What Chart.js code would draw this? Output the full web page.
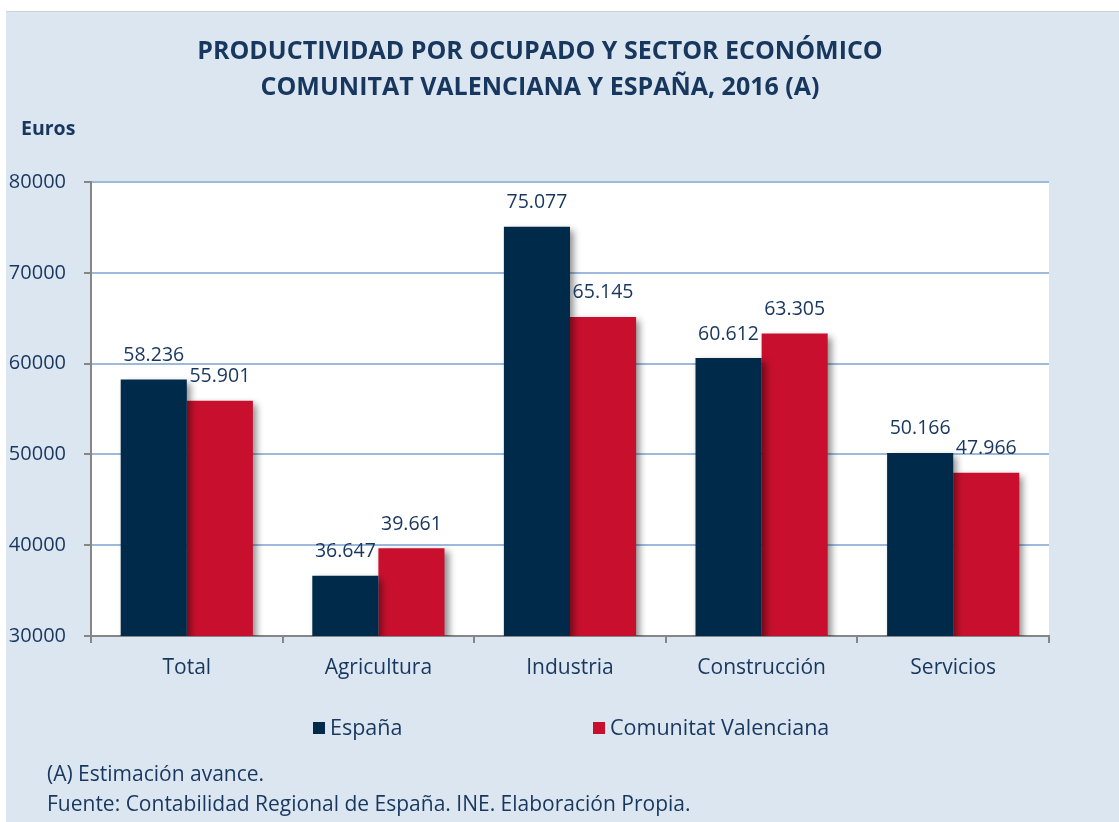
<!DOCTYPE html>
<html><head><meta charset="utf-8">
<script src="https://cdn.jsdelivr.net/npm/chart.js@4/dist/chart.umd.min.js"></script>
<style>html,body{margin:0;padding:0;background:#fff;overflow:hidden}#wrap{position:absolute;left:0;top:0;width:1119px;height:822px}</style>
</head><body><div id="wrap"><canvas id="c" width="1119" height="822"></canvas></div>
<script>
const categories = ['Total','Agricultura','Industria','Construcción','Servicios'];
const espana = [58236, 36647, 75077, 60612, 50166];
const valenciana = [55901, 39661, 65145, 63305, 47966];
const seriesNames = ['España','Comunitat Valenciana'];
const titleLines = ['PRODUCTIVIDAD POR OCUPADO Y SECTOR ECONÓMICO','COMUNITAT VALENCIANA Y ESPAÑA, 2016 (A)'];
const yAxisTitle = 'Euros';
const notes = ['(A) Estimación avance.','Fuente: Contabilidad Regional de España. INE. Elaboración Propia.'];
const yTicks = {min:30000, max:80000, step:10000};

const TXT = '#17375e';
const FONT = '"Open Sans", sans-serif';
const fmt = v => String(v).replace(/\B(?=(\d{3})+(?!\d))/g, '.');

const bgPlugin = {
  id:'bg',
  beforeDraw(chart){
    const ctx = chart.ctx, a = chart.chartArea;
    ctx.save();
    ctx.fillStyle = '#ffffff'; ctx.fillRect(0,0,chart.width,chart.height);
    ctx.fillStyle = '#dce6f1'; ctx.fillRect(6,11,chart.width-6,chart.height-11);
    ctx.fillStyle = '#d0d4da'; ctx.fillRect(6,11,chart.width-6,1);
    ctx.fillStyle = '#ffffff'; ctx.fillRect(a.left,a.top,a.right-a.left,a.bottom-a.top);
    ctx.restore();
  }
};
const shadowPlugin = {
  id:'shadow',
  beforeDatasetDraw(chart){
    const ctx = chart.ctx; ctx.save();
    ctx.shadowColor = 'rgba(0,0,0,0.45)'; ctx.shadowBlur = 7; ctx.shadowOffsetX = 4; ctx.shadowOffsetY = 3;
  },
  afterDatasetDraw(chart){ chart.ctx.restore(); }
};
const textPlugin = {
  id:'texts',
  afterDraw(chart){
    const ctx = chart.ctx;
    ctx.save();
    ctx.fillStyle = TXT;
    // data labels
    ctx.font = '19.5px ' + FONT; ctx.textAlign='center'; ctx.textBaseline='middle';
    chart.data.datasets.forEach((ds,i)=>{
      chart.getDatasetMeta(i).data.forEach((bar,j)=>{
        ctx.fillText(fmt(ds.data[j]), bar.x, bar.y - 24);
      });
    });
    // title
    ctx.font = 'bold 25px ' + FONT;
    ctx.fillText(titleLines[0], 540, 52);
    ctx.fillText(titleLines[1], 540, 88);
    // y title
    ctx.font = 'bold 19.5px ' + FONT; ctx.textAlign='left';
    ctx.fillText(yAxisTitle, 21, 129);
    // legend
    ctx.font = '21.5px ' + FONT;
    const lx = [313, 593];
    chart.data.datasets.forEach((ds,i)=>{
      ctx.fillStyle = ds.backgroundColor;
      ctx.fillRect(lx[i], 722, 12, 12);
      ctx.fillStyle = TXT;
      ctx.fillText(ds.label, lx[i] + 17, 729);
    });
    // notes
    ctx.font = '21px ' + FONT;
    ctx.fillText(notes[0], 47, 775);
    ctx.fillText(notes[1], 47, 805);
    ctx.restore();
  }
};

new Chart(document.getElementById('c'), {
  type:'bar',
  data:{
    labels: categories,
    datasets:[
      {label:seriesNames[0], data:espana, backgroundColor:'#002a4a', categoryPercentage:0.69, barPercentage:1.0},
      {label:seriesNames[1], data:valenciana, backgroundColor:'#c8102e', categoryPercentage:0.69, barPercentage:1.0}
    ]
  },
  options:{
    responsive:false, animation:false, devicePixelRatio:1,
    layout:{padding:{left:0, top:182, right:70, bottom:136}},
    plugins:{legend:{display:false}, title:{display:false}, tooltip:{enabled:false}},
    scales:{
      x:{
        grid:{drawOnChartArea:false, drawTicks:true, tickLength:7, tickColor:'#868686', offset:true, lineWidth:2},
        border:{color:'#868686', width:2},
        ticks:{color:TXT, font:{family:FONT, size:21}, padding:12},
        afterFit(s){ s.height = 50; }
      },
      y:{
        min:yTicks.min, max:yTicks.max,
        grid:{color:'#9db9dc', lineWidth:2, tickLength:7, tickColor:'#868686'},
        border:{color:'#868686', width:2},
        ticks:{stepSize:yTicks.step, color:TXT, font:{family:FONT, size:20}, padding:18, callback:v=>String(v)},
        afterFit(s){ s.width = 91; }
      }
    }
  },
  plugins:[bgPlugin, shadowPlugin, textPlugin]
});
</script>
</body></html>
